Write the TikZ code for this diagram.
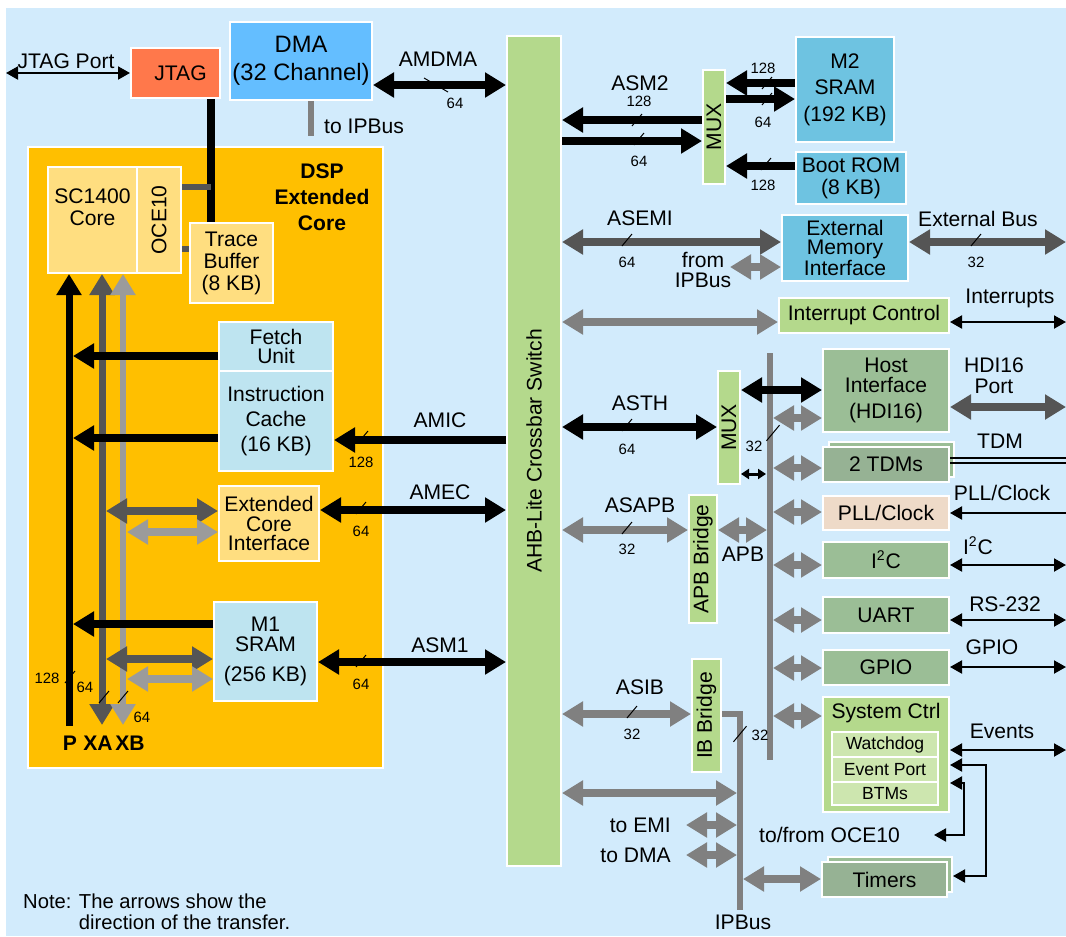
\documentclass[tikz,border=0pt]{standalone}
\usepackage{fontspec}
\setmainfont{Liberation Sans}
\usepackage{tikz}
\usetikzlibrary{positioning, calc, arrows.meta}

\definecolor{bgblue}{RGB}{210,235,252}
\definecolor{dsporange}{RGB}{255,191,0}
\definecolor{paleyellow}{RGB}{255,222,128}
\definecolor{paleblue}{RGB}{190,228,240}
\definecolor{memcyan}{RGB}{110,195,225}
\definecolor{dmablue}{RGB}{100,190,255}
\definecolor{jtagred}{RGB}{255,120,75}
\definecolor{busgreen}{RGB}{180,217,140}
\definecolor{periphgreen}{RGB}{155,190,150}
\definecolor{tdmgreen}{RGB}{150,178,148}
\definecolor{pllbeige}{RGB}{238,218,200}
\definecolor{subgreen}{RGB}{205,230,175}
\definecolor{darkbus}{RGB}{85,85,85}
\definecolor{midbus}{RGB}{128,128,128}
\definecolor{lightbus}{RGB}{155,155,155}

\begin{document}
\begin{tikzpicture}[
    x=0.2mm, y=-0.2mm,
    every node/.style={font=\fontsize{12}{13}\selectfont},
    box/.style={draw=white, line width=0.4mm, inner sep=0pt, align=center},
    num/.style={font=\fontsize{8.5}{9}\selectfont, inner sep=0pt},
    sub/.style={box, line width=0.3mm, fill=subgreen, minimum width=21.2mm, font=\fontsize{10}{11}\selectfont},
    bigtip/.tip={Triangle[length=4.2mm, width=4.8mm]},
    smalltip/.tip={Triangle[length=2.4mm, width=2.6mm]},
    tinytip/.tip={Triangle[length=1.6mm, width=2mm]},
    blk/.style={draw=black, line width=1.6mm},
    dgr/.style={draw=darkbus, line width=1.5mm},
    mgr/.style={draw=midbus, line width=1.5mm},
    lgr/.style={draw=lightbus, line width=1.5mm},
    thn/.style={draw=black, line width=0.4mm},
    bw/.pic={\draw[line width=0.2mm] (-5,6) -- (5,-6);},
  ]
  \useasboundingbox (0,0) rectangle (1066,936);
  \fill[bgblue] (6,8) rectangle (1066,936);

  % DSP extended core
  \node[box, fill=dsporange, minimum width=71mm, minimum height=124.2mm] (dsp) at (205.5,457.5) {};
  \node[align=center, font=\bfseries\fontsize{12}{14.7}\selectfont] (dsplbl) at (322,197) {DSP\\Extended\\Core};
  \node[box, fill=paleyellow, minimum width=17.8mm, minimum height=21.2mm] (core) at (92.5,220) {};
  \node[align=center, font=\fontsize{12}{12.5}\selectfont] (corelbl) at (92.5,207) {SC1400\\Core};
  \node[box, fill=paleyellow, minimum width=8.8mm, minimum height=21.2mm] (oce) at (159,220) {\rotatebox{90}{OCE10}};
  \node[box, fill=paleyellow, minimum width=16.6mm, minimum height=16mm, font=\fontsize{12}{12.5}\selectfont] (trace) at (231.5,263) {Trace\\Buffer\\(8 KB)};
  \node[box, fill=jtagred, minimum width=17.8mm, minimum height=10mm] (jtag) at (175.5,73) {\hspace{2mm}JTAG};
  \node[box, fill=dmablue, minimum width=28.4mm, minimum height=15.6mm, font=\fontsize{13.5}{16}\selectfont] (dma) at (301,61) {DMA\\(32 Channel)};
  \node[box, fill=paleblue, minimum width=22.8mm, minimum height=9.8mm, font=\fontsize{12}{11.3}\selectfont] (fetch) at (276,346.5) {Fetch\\Unit};
  \node[box, fill=paleblue, minimum width=22.8mm, minimum height=20mm, font=\fontsize{12}{14}\selectfont] (icache) at (276,421) {Instruction\\Cache\\(16 KB)};
  \node[box, fill=paleyellow, minimum width=20mm, minimum height=15mm, font=\fontsize{12}{11.3}\selectfont] (eci) at (269,523.5) {Extended\\Core\\Interface};
  \node[box, fill=paleblue, minimum width=20.6mm, minimum height=19.8mm, font=\fontsize{12}{11.3}\selectfont] (m1) at (265.5,651.5) {M1\\SRAM\\[2mm](256 KB)};

  % crossbar and slaves
  \node[box, fill=busgreen, minimum width=10.8mm, minimum height=166mm] (xbar) at (534,451) {\rotatebox{90}{AHB-Lite Crossbar Switch}};
  \node[box, fill=busgreen, minimum width=4.4mm, minimum height=22.8mm] (mux1) at (714,127) {\rotatebox{90}{MUX}};
  \node[box, fill=memcyan, minimum width=19.6mm, minimum height=21mm, font=\fontsize{12}{15}\selectfont] (m2) at (845,89.5) {M2\\SRAM\\(192 KB)};
  \node[box, fill=memcyan, minimum width=22mm, minimum height=10.4mm, font=\fontsize{12}{12.5}\selectfont] (boot) at (851,178) {Boot ROM\\(8 KB)};
  \node[box, fill=memcyan, minimum width=25.2mm, minimum height=13.2mm, font=\fontsize{12}{11}\selectfont] (emi) at (845,248) {External\\Memory\\Interface};
  \node[box, fill=busgreen, minimum width=34mm, minimum height=7mm] (intc) at (864,315.5) {Interrupt Control};
  \node[box, fill=periphgreen, minimum width=25.2mm, minimum height=16.6mm, font=\fontsize{12}{11.3}\selectfont] (host) at (886,390.5) {Host\\Interface\\[1.2mm](HDI16)};
  \node[box, fill=busgreen, minimum width=4.4mm, minimum height=22.6mm] (mux2) at (729,427.5) {\rotatebox{90}{MUX}};
  \node[box, fill=periphgreen, minimum width=25mm, minimum height=7mm] (tdmb) at (891,459.5) {};
  \node[box, fill=tdmgreen, minimum width=25.2mm, minimum height=7mm] (tdm) at (886,464.5) {2 TDMs};
  \node[box, fill=pllbeige, minimum width=25.2mm, minimum height=6.8mm] (pll) at (886,513) {PLL/Clock};
  \node[box, fill=periphgreen, minimum width=25.2mm, minimum height=7.2mm] (i2c) at (886,560) {I\textsuperscript{2}C};
  \node[box, fill=periphgreen, minimum width=25.2mm, minimum height=7.2mm] (uart) at (886,615) {UART};
  \node[box, fill=periphgreen, minimum width=25.2mm, minimum height=7mm] (gpio) at (886,667.5) {GPIO};
  \node[box, fill=busgreen, minimum width=25.2mm, minimum height=23mm] (sysc) at (886,754.5) {};
  \node (sysclbl) at (886,713) {System Ctrl};
  \node[sub, minimum height=5mm] (wdog) at (885,744.5) {Watchdog};
  \node[sub, minimum height=5mm] (evp) at (885,769.5) {Event Port};
  \node[sub, minimum height=4.6mm] (btm) at (885,793.5) {BTMs};
  \node[box, fill=periphgreen, minimum width=24.8mm, minimum height=7mm] (timersb) at (890,874.5) {};
  \node[box, fill=tdmgreen, minimum width=25mm, minimum height=7mm] (timers) at (884.5,879.5) {Timers};
  \node[box, fill=busgreen, minimum width=5.6mm, minimum height=25.6mm] (apb) at (703,559) {\rotatebox{90}{APB Bridge}};
  \node[box, fill=busgreen, minimum width=5.8mm, minimum height=22.6mm] (ib) at (706.5,715.5) {\rotatebox{90}{IB Bridge}};

  % bus ends
  \coordinate (jport) at (6,73);
  \coordinate (pbot) at (69,726);
  \coordinate (xabot) at (102,725);
  \coordinate (xbbot) at (123,725);
  \coordinate (pe) at (73,0);
  \coordinate (xae) at (106,0);
  \coordinate (xbe) at (127,0);
  \coordinate (rim) at (1066,0);
  \coordinate (pbtop) at (770,353);
  \coordinate (pbbot) at (770,760);
  \coordinate (pbr) at (773,0);
  \coordinate (pbl) at (767,0);
  \coordinate (ipcorner) at (740,714);
  \coordinate (ipbot) at (740,910);
  \coordinate (ipl) at (737,0);
  \coordinate (ipr) at (743,0);

  % JTAG, DMA
  \draw[thn, smalltip-smalltip] (jport) -- (jtag.west);
  \node (jportlbl) at (66,61) {JTAG Port};
  \draw[blk] (jtag.south -| 211,0) -- (trace.north -| 211,0);
  \draw[draw=darkbus, line width=1.2mm] (oce.east |- 0,187) -- (211,187);
  \draw[draw=darkbus, line width=1.2mm] (oce.east |- 0,249) -- (trace.west |- 0,249);
  \draw[draw=midbus, line width=1.2mm] (dma.south -| 311,0) -- (311,136);
  \node[anchor=west] (toipb) at (318,126) {to IPBus};
  \draw[blk, bigtip-bigtip] (dma.east |- 0,85) -- (xbar.west |- 0,85);
  \node (amdma) at (438,59) {AMDMA};
  \draw[line width=0.2mm] (424,78) -- (448,92);
  \node[num] (namdma) at (455,103) {64};

  % core buses
  \draw[draw=black, line width=1.4mm, -bigtip] (pbot) -- (core.south -| pbot);
  \draw[draw=darkbus, line width=1.4mm, bigtip-bigtip] (xabot) -- (core.south -| xabot);
  \draw[draw=lightbus, line width=1.2mm, bigtip-bigtip] (xbbot) -- (core.south -| xbbot);
  \node[font=\bfseries\fontsize{12}{13}\selectfont] (plbl) at (70,743) {P};
  \node[font=\bfseries\fontsize{12}{13}\selectfont] (xalbl) at (98,743) {XA};
  \node[font=\bfseries\fontsize{12}{13}\selectfont] (xblbl) at (130,743) {XB};
  \pic at (70,677) {bw};
  \pic at (104,697) {bw};
  \pic at (123,697) {bw};
  \node[num] (np) at (47,678) {128};
  \node[num] (nxa) at (85,687) {64};
  \node[num] (nxb) at (142,717) {64};

  \draw[blk, -bigtip] (fetch.west |- 0,356) -- (pe |- 0,356);
  \draw[blk, -bigtip] (icache.west |- 0,438) -- (pe |- 0,438);
  \draw[blk, -bigtip] (m1.west |- 0,624) -- (pe |- 0,624);
  \draw[dgr, bigtip-bigtip] (xae |- 0,511) -- (eci.west |- 0,511);
  \draw[lgr, bigtip-bigtip] (xbe |- 0,532) -- (eci.west |- 0,532);
  \draw[dgr, bigtip-bigtip] (xae |- 0,659) -- (m1.west |- 0,659);
  \draw[lgr, bigtip-bigtip] (xbe |- 0,679) -- (m1.west |- 0,679);

  % masters into the crossbar
  \draw[blk, -bigtip] (xbar.west |- 0,440) -- (icache.east |- 0,440);
  \node (amic) at (440,420) {AMIC};
  \pic at (363,437) {bw};
  \node[num] (namic) at (361,462) {128};
  \draw[blk, bigtip-bigtip] (eci.east |- 0,510) -- (xbar.west |- 0,510);
  \node (amec) at (440,492) {AMEC};
  \pic at (361,508) {bw};
  \node[num] (namec) at (361,531) {64};
  \draw[blk, bigtip-bigtip] (m1.east |- 0,662) -- (xbar.west |- 0,662);
  \node (asm1) at (440,645) {ASM1};
  \pic at (361,661) {bw};
  \node[num] (nasm1) at (361,684) {64};

  % M2 and Boot ROM
  \draw[blk, -bigtip] (mux1.west |- 0,120) -- (xbar.east |- 0,120);
  \draw[blk, -bigtip] (xbar.east |- 0,141) -- (mux1.west |- 0,141);
  \node (asm2) at (640,83) {ASM2};
  \node[num] (nasm2a) at (639,101) {128};
  \pic at (637,120) {bw};
  \pic at (639,139) {bw};
  \node[num] (nasm2b) at (639,161) {64};
  \draw[blk, -bigtip] (m2.west |- 0,83) -- (mux1.east |- 0,83);
  \draw[blk, -bigtip] (mux1.east |- 0,99) -- (m2.west |- 0,99);
  \draw[blk, -bigtip] (boot.west |- 0,166) -- (mux1.east |- 0,166);
  \pic at (767,83) {bw};
  \pic at (767,99) {bw};
  \pic at (766,164) {bw};
  \node[num] (nm2a) at (763,68) {128};
  \node[num] (nm2b) at (763,122) {64};
  \node[num] (nboot) at (763,185) {128};

  % EMI and interrupts
  \draw[dgr, bigtip-bigtip] (xbar.east |- 0,242) -- (emi.west |- 0,242);
  \node (asemi) at (640,218) {ASEMI};
  \pic at (627,240) {bw};
  \node[num] (nasemi) at (627,262) {64};
  \coordinate (fromip) at (730,267);
  \draw[mgr, bigtip-bigtip] (fromip) -- (emi.west |- fromip);
  \node[align=center, font=\fontsize{12}{11.3}\selectfont] (fromiplbl) at (703,270) {from\\IPBus};
  \draw[dgr, bigtip-bigtip] (emi.east |- 0,242) -- (rim |- 0,242);
  \node (extbus) at (978,219) {External Bus};
  \pic at (976,240) {bw};
  \node[num] (nextbus) at (976,262) {32};
  \draw[mgr, bigtip-bigtip] (xbar.east |- 0,322) -- (intc.west |- 0,322);
  \draw[thn, smalltip-smalltip] (intc.east |- 0,322) -- (rim |- 0,322);
  \node (intr) at (1010,298) {Interrupts};

  % peripheral bus
  \draw[draw=midbus, line width=1.2mm] (pbtop) -- (pbbot);
  \pic[scale=1.3] at (773,433) {bw};
  \node[num] (npb) at (754,446) {32};
  \draw[blk, bigtip-bigtip] (xbar.east |- 0,427) -- (mux2.west |- 0,427);
  \node (asth) at (640,403) {ASTH};
  \pic at (627,425) {bw};
  \node[num] (nasth) at (627,449) {64};
  \draw[blk, bigtip-bigtip] (mux2.east |- 0,390) -- (host.west |- 0,390);
  \draw[draw=black, line width=0.6mm, tinytip-tinytip] (mux2.east |- 0,474) -- (766,474);
  \foreach \b/\y in {host/418, tdm/468, pll/512, i2c/565, uart/620, gpio/668, sysc/716}
    \draw[mgr, bigtip-bigtip] (pbr |- 0,\y) -- (\b.west |- 0,\y);
  \draw[mgr, bigtip-bigtip] (xbar.east |- 0,530) -- (apb.west |- 0,530);
  \node (asapb) at (640,505) {ASAPB};
  \pic at (627,528) {bw};
  \node[num] (nasapb) at (627,549) {32};
  \draw[mgr, bigtip-bigtip] (apb.east |- 0,530) -- (pbl |- 0,530);
  \node (apblbl) at (743,554) {APB};

  % external pins
  \draw[dgr, bigtip-bigtip] (host.east |- 0,407) -- (rim |- 0,407);
  \node[align=center, font=\fontsize{12}{12}\selectfont] (hdiport) at (994,376) {HDI16\\Port};
  \draw[thn] (tdm.east |- 0,458) -- (rim |- 0,458);
  \draw[thn] (tdm.east |- 0,463) -- (rim |- 0,463);
  \node (tdmlbl) at (1000,441) {TDM};
  \draw[thn, -smalltip] (rim |- 0,513) -- (pll.east |- 0,513);
  \node (plllbl) at (1002,493) {PLL/Clock};
  \foreach \b/\y in {i2c/565, uart/620, gpio/667, sysc/750}
    \draw[thn, smalltip-smalltip] (\b.east |- 0,\y) -- (rim |- 0,\y);
  \node (i2clbl) at (978,546) {I\textsuperscript{2}C};
  \node (rslbl) at (1005,604) {RS-232};
  \node (gpiolbl) at (992,647) {GPIO};
  \node (evlbl) at (1002,731) {Events};
  \draw[thn, smalltip-smalltip] (sysc.east |- 0,765) -| (986,876) -- (timersb.east |- 0,876);
  \node[anchor=east] (tofrom) at (906,835) {to/from OCE10};
  \coordinate (oceret) at (934,835);
  \draw[thn, smalltip-smalltip] (sysc.east |- 0,783) -| (964,835) -- (oceret);

  % IP bus
  \draw[mgr, bigtip-bigtip] (xbar.east |- 0,714) -- (ib.west |- 0,714);
  \node (asib) at (640,687) {ASIB};
  \pic at (632,712) {bw};
  \node[num] (nasib) at (632,734) {32};
  \draw[draw=midbus, line width=1.2mm] (ib.east |- ipcorner) -- (ipcorner) -- (ipbot);
  \pic[scale=1.3] at (740,734) {bw};
  \node[num] (nip) at (760,735) {32};
  \node (iplbl) at (743,922) {IPBus};
  \draw[mgr, bigtip-bigtip] (xbar.east |- 0,793) -- (ipl |- 0,793);
  \node[anchor=east] (toemi) at (677,825) {to EMI};
  \node[anchor=east] (todma) at (677,855) {to DMA};
  \draw[mgr, bigtip-bigtip] ([xshift=1.8mm]toemi.east) -- (ipl |- toemi.east);
  \draw[mgr, bigtip-bigtip] ([xshift=1.8mm]todma.east) -- (ipl |- todma.east);
  \draw[mgr, bigtip-bigtip] (ipr |- 0,879) -- (timers.west |- 0,879);

  \node[anchor=west, align=left, font=\fontsize{11.5}{11.8}\selectfont] (note) at (17,912) {Note: The arrows show the\\\hphantom{Note: }direction of the transfer.};
\end{tikzpicture}
\end{document}
